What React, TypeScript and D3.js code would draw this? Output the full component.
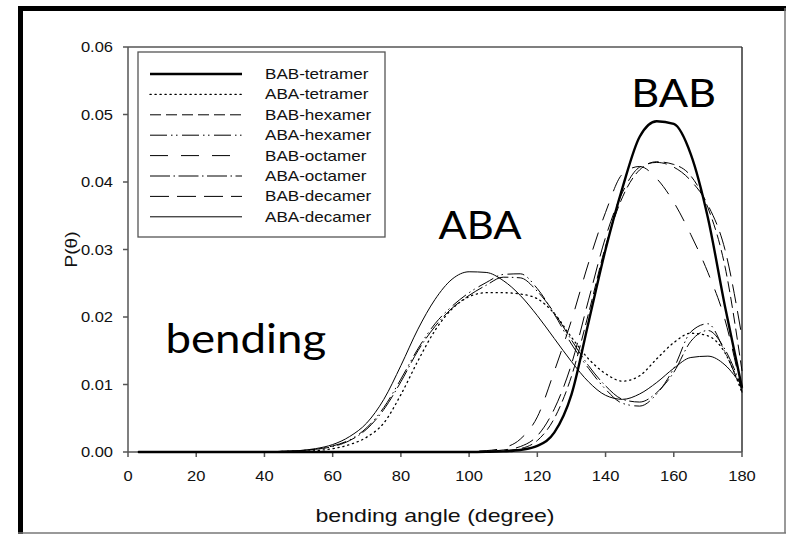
import React from 'react';
import * as d3 from 'd3';

const angles = [3, 5, 10, 15, 20, 25, 30, 35, 40, 45, 50, 55, 60, 65, 70, 75, 80, 85, 90, 95, 100, 105, 110, 115, 120, 125, 130, 135, 140, 145, 150, 155, 160, 165, 170, 175, 180];

const babTetramer = [0, 0, 0, 0, 0, 0, 0, 0, 0, 0, 0, 0, 0, 0, 0, 0, 0, 0, 0, 0, 0, 0.00003, 0.0001, 0.0003, 0.0009, 0.0029, 0.0085, 0.0192, 0.0300, 0.0392, 0.0467, 0.0490, 0.0486, 0.0441, 0.0347, 0.0216, 0.0095];
const abaTetramer = [0, 0, 0, 0, 0, 0, 0, 0, 0, 0, 0.0001, 0.0002, 0.0005, 0.0011, 0.0022, 0.0043, 0.0085, 0.0135, 0.0180, 0.0212, 0.0230, 0.0236, 0.0236, 0.0234, 0.0227, 0.0205, 0.0170, 0.0138, 0.0116, 0.0105, 0.0113, 0.0138, 0.0162, 0.0176, 0.0172, 0.0147, 0.0088];
const babHexamer = [0, 0, 0, 0, 0, 0, 0, 0, 0, 0, 0, 0, 0, 0, 0, 0, 0, 0, 0, 0, 0, 0.0001, 0.0002, 0.0005, 0.0017, 0.0050, 0.0112, 0.0205, 0.0305, 0.0378, 0.0418, 0.0430, 0.0426, 0.0409, 0.0362, 0.0275, 0.0120];
const abaHexamer = [0, 0, 0, 0, 0, 0, 0, 0, 0, 0.0001, 0.0002, 0.0004, 0.0009, 0.0018, 0.0036, 0.0066, 0.0108, 0.0153, 0.0190, 0.0216, 0.0236, 0.0251, 0.0263, 0.0264, 0.0242, 0.0204, 0.0160, 0.0124, 0.0093, 0.0072, 0.0068, 0.0086, 0.0124, 0.0178, 0.0190, 0.0148, 0.0090];
const babOctamer = [0, 0, 0, 0, 0, 0, 0, 0, 0, 0, 0, 0, 0, 0, 0, 0, 0, 0, 0, 0, 0.0001, 0.0002, 0.0006, 0.0019, 0.0052, 0.0120, 0.0195, 0.0280, 0.0355, 0.0412, 0.0423, 0.0405, 0.0370, 0.0322, 0.0266, 0.0196, 0.0088];
const abaOctamer = [0, 0, 0, 0, 0, 0, 0, 0, 0, 0.0001, 0.0002, 0.0004, 0.0008, 0.0017, 0.0034, 0.0063, 0.0104, 0.0150, 0.0186, 0.0213, 0.0232, 0.0247, 0.0259, 0.0258, 0.0238, 0.0206, 0.0166, 0.0128, 0.0098, 0.0078, 0.0074, 0.0088, 0.0118, 0.0164, 0.0180, 0.0152, 0.0094];
const babDecamer = [0, 0, 0, 0, 0, 0, 0, 0, 0, 0, 0, 0, 0, 0, 0, 0, 0, 0, 0, 0, 0, 0.0001, 0.0003, 0.0008, 0.0024, 0.0064, 0.0130, 0.0225, 0.0318, 0.0385, 0.0422, 0.0429, 0.0422, 0.0402, 0.0366, 0.0300, 0.0170];
const abaDecamer = [0, 0, 0, 0, 0, 0, 0, 0, 0, 0.0001, 0.0002, 0.0005, 0.0011, 0.0023, 0.0043, 0.0078, 0.0128, 0.0182, 0.0226, 0.0256, 0.0267, 0.0266, 0.0254, 0.0232, 0.0202, 0.0168, 0.0134, 0.0104, 0.0084, 0.0078, 0.0086, 0.0103, 0.0124, 0.0140, 0.0142, 0.0129, 0.0098];

const seriesNames = ['BAB-tetramer', 'ABA-tetramer', 'BAB-hexamer', 'ABA-hexamer', 'BAB-octamer', 'ABA-octamer', 'BAB-decamer', 'ABA-decamer'];
const seriesValues = [babTetramer, abaTetramer, babHexamer, abaHexamer, babOctamer, abaOctamer, babDecamer, abaDecamer];

const xTicks = [0, 20, 40, 60, 80, 100, 120, 140, 160, 180];
const yTicks = [0, 0.01, 0.02, 0.03, 0.04, 0.05, 0.06];

const xTitle = 'bending angle (degree)';
const yTitle = 'P(\u03B8)';
const annotationTexts = ['ABA', 'BAB', 'bending'];
const annotationAngles = [91, 147.5, 11];
const annotationValues = [0.0316, 0.0511, 0.0147];

// styles (kept separate from data)
const lineStyles = [
  { w: 2.4, dash: null },
  { w: 1.3, dash: '1.2 3.8' },
  { w: 1, dash: '11 5' },
  { w: 1, dash: '17 4 1.5 3.5 1.5 4.5' },
  { w: 1, dash: '18 13' },
  { w: 1, dash: '20 3.5 1.5 3.5' },
  { w: 1, dash: '19 8' },
  { w: 1, dash: null },
];
const annotationStyles = [
  { size: 38, sx: 1.1 },
  { size: 38, sx: 1.14 },
  { size: 40, sx: 1.14 },
];

const W = 786;
const H = 534;
const font = 'Arial, "Liberation Sans", Helvetica, sans-serif';

export default function App() {
  const x = d3.scaleLinear().domain([0, 180]).range([128, 742]);
  const y = d3.scaleLinear().domain([0, 0.06]).range([452, 47]);
  const line = d3
    .line<number>()
    .x((_, i) => x(angles[i]))
    .y((d) => y(d))
    .curve(d3.curveMonotoneX);

  const axisColor = '#555';
  const legendX = 138;
  const legendY = 52;
  const rowY0 = 74;
  const rowStep = 20.4;

  return (
    <svg width={W} height={H} style={{ position: 'absolute', left: 0, top: 0, background: '#fff' }}>
      <rect x={0} y={0} width={W} height={H} fill="#fff" />
      {/* outer frame */}
      <line x1={18} y1={8.5} x2={786} y2={8.5} stroke="#000" strokeWidth={5} />
      <line x1={20.5} y1={6} x2={20.5} y2={534} stroke="#000" strokeWidth={5} />
      <line x1={785} y1={8} x2={785} y2={533} stroke="#777" strokeWidth={1.5} />
      <line x1={18} y1={533} x2={786} y2={533} stroke="#777" strokeWidth={1.5} />

      {/* plot frame */}
      <line x1={x(0)} y1={y(0.06)} x2={x(180)} y2={y(0.06)} stroke={axisColor} strokeWidth={1.5} />
      <line x1={x(180)} y1={y(0.06)} x2={x(180)} y2={y(0)} stroke="#333" strokeWidth={1.5} />
      <line x1={x(0)} y1={y(0.06)} x2={x(0)} y2={y(0)} stroke={axisColor} strokeWidth={1.5} />
      <line x1={x(0)} y1={y(0)} x2={x(180)} y2={y(0)} stroke={axisColor} strokeWidth={1.5} />

      {/* y ticks */}
      {yTicks.map((t) => (
        <g key={'y' + t}>
          <line x1={x(0) - 5} x2={x(0)} y1={y(t)} y2={y(t)} stroke={axisColor} strokeWidth={1.5} />
          <text
            transform={`translate(113, ${y(t)}) scale(1.1, 1)`}
            dy="0.36em"
            textAnchor="end"
            fontFamily={font}
            fontSize={15}
            fill="#111"
          >
            {t.toFixed(2)}
          </text>
        </g>
      ))}
      {/* x ticks */}
      {xTicks.map((t) => (
        <g key={'x' + t}>
          <line x1={x(t)} x2={x(t)} y1={y(0)} y2={y(0) + 5} stroke={axisColor} strokeWidth={1.5} />
          <text
            transform={`translate(${x(t)}, 480.5) scale(1.1, 1)`}
            textAnchor="middle"
            fontFamily={font}
            fontSize={15}
            fill="#111"
          >
            {t}
          </text>
        </g>
      ))}

      {/* curves */}
      {seriesValues.map((vals, i) => (
        <path
          key={seriesNames[i]}
          d={line(vals) || ''}
          fill="none"
          stroke="#000"
          strokeWidth={lineStyles[i].w}
          strokeDasharray={lineStyles[i].dash || undefined}
          strokeLinecap={i === 1 ? 'round' : 'butt'}
        />
      ))}

      {/* legend */}
      <rect x={legendX} y={legendY} width={247} height={185} fill="#fff" stroke={axisColor} strokeWidth={1.3} />
      {seriesNames.map((name, i) => (
        <g key={'lg' + name}>
          <line
            x1={150}
            x2={242}
            y1={rowY0 + i * rowStep}
            y2={rowY0 + i * rowStep}
            stroke="#000"
            strokeWidth={lineStyles[i].w}
            strokeDasharray={lineStyles[i].dash || undefined}
            strokeLinecap={i === 1 ? 'round' : 'butt'}
          />
          <text
            transform={`translate(265, ${rowY0 + i * rowStep}) scale(1.22, 1)`}
            dy="0.36em"
            fontFamily={font}
            fontSize={14}
            fill="#111"
          >
            {name}
          </text>
        </g>
      ))}

      {/* annotations */}
      {annotationTexts.map((t, i) => (
        <text
          key={t}
          transform={`translate(${x(annotationAngles[i])}, ${y(annotationValues[i])}) scale(${annotationStyles[i].sx}, 1)`}
          fontFamily="Lato, 'Open Sans', sans-serif"
          fontSize={annotationStyles[i].size}
          fill="#000"
        >
          {t}
        </text>
      ))}

      {/* axis titles */}
      <text
        transform={`translate(${(x(0) + x(180)) / 2}, 522) scale(1.25, 1)`}
        textAnchor="middle"
        fontFamily={font}
        fontSize={18.5}
        fill="#111"
      >
        {xTitle}
      </text>
      <text
        transform={`translate(77, ${y(0.03)}) rotate(-90) scale(1.12, 1)`}
        textAnchor="middle"
        fontFamily={font}
        fontSize={17}
        fill="#111"
      >
        {yTitle}
      </text>
    </svg>
  );
}
